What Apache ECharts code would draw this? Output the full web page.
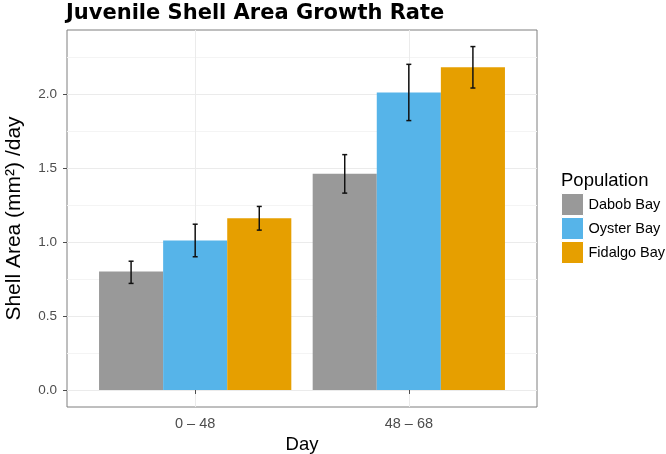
<!DOCTYPE html>
<html>
<head>
<meta charset="utf-8">
<script src="https://cdn.jsdelivr.net/npm/echarts@6/dist/echarts.min.js"></script>
<style>html,body{margin:0;padding:0;background:#fff}#c{width:666px;height:454px}</style>
</head>
<body>
<div id="c"></div>
<script>
// ---- data ----
const categories = ['0 – 48', '48 – 68'];
const populations = ['Dabob Bay', 'Oyster Bay', 'Fidalgo Bay'];
const dabobMean = [0.80, 1.46];
const oysterMean = [1.01, 2.01];
const fidalgoMean = [1.16, 2.18];
const dabobErr = [[0.72, 0.87], [1.33, 1.59]];
const oysterErr = [[0.90, 1.12], [1.82, 2.20]];
const fidalgoErr = [[1.08, 1.24], [2.04, 2.32]];
const yTicks = [0, 0.5, 1.0, 1.5, 2.0];
const yMinorTicks = [0.25, 0.75, 1.25, 1.75, 2.25];
const colors = ['#999999', '#56B4E9', '#E69F00'];

const means = [dabobMean, oysterMean, fidalgoMean];
const errs = [dabobErr, oysterErr, fidalgoErr];
const catPos = categories.map((c, i) => i + 1);
const FONT = '"Liberation Sans", Arial, Helvetica, sans-serif';
const DODGE = 0.3;

const chart = echarts.init(document.getElementById('c'), null, {renderer: 'canvas'});

const series = [];
populations.forEach((p, k) => {
  series.push({
    name: p, type: 'bar', xAxisIndex: 0, yAxisIndex: 1,
    data: means[k].map((v, i) => [catPos[i], v]),
    barWidth: '30%', barGap: '0%',
    itemStyle: {color: colors[k]},
    emphasis: {disabled: true}, animation: false
  });
});
populations.forEach((p, k) => {
  series.push({
    type: 'custom', xAxisIndex: 0, yAxisIndex: 1, z: 5,
    data: errs[k].map((e, i) => [catPos[i], e[0], e[1]]),
    renderItem: function (params, api) {
      const x = api.value(0) + (k - 1) * DODGE;
      const lo = api.coord([x, api.value(1)]);
      const hi = api.coord([x, api.value(2)]);
      const cap = 2.5;
      const st = {stroke: '#111', lineWidth: 1.5};
      return {type: 'group', children: [
        {type: 'line', shape: {x1: lo[0], y1: lo[1], x2: hi[0], y2: hi[1]}, style: st},
        {type: 'line', shape: {x1: lo[0] - cap, y1: lo[1], x2: lo[0] + cap, y2: lo[1]}, style: st},
        {type: 'line', shape: {x1: hi[0] - cap, y1: hi[1], x2: hi[0] + cap, y2: hi[1]}, style: st}
      ]};
    },
    animation: false, silent: true
  });
});

chart.setOption({
  animation: false,
  backgroundColor: '#ffffff',
  title: [
    {text: 'Juvenile Shell Area Growth Rate', left: 66, top: 3, padding: 0,
     textStyle: {fontFamily: '"DejaVu Sans", sans-serif', fontWeight: 'bold', fontSize: 21, color: '#000'}},
    {text: 'Population', left: 561, top: 171, padding: 0,
     textStyle: {fontFamily: FONT, fontWeight: 'normal', fontSize: 18.5, color: '#000'}}
  ],
  legend: {
    data: populations, orient: 'vertical', left: 561, top: 193, padding: 0,
    itemWidth: 22, itemHeight: 22, itemGap: 1, icon: 'rect',
    itemStyle: {borderColor: '#fff', borderWidth: 1},
    textStyle: {fontFamily: FONT, fontSize: 14.5, color: '#000'},
    selectedMode: false
  },
  grid: {left: 67, right: 129, top: 30, bottom: 47, show: true, outerBoundsMode: 'none',
         borderColor: '#7f7f7f', borderWidth: 1, backgroundColor: 'transparent'},
  xAxis: {
    type: 'value', min: 0.4, max: 2.6,
    name: 'Day', nameLocation: 'middle', nameGap: 26,
    nameTextStyle: {fontFamily: FONT, fontSize: 18.5, color: '#000'},
    axisLine: {show: false},
    axisTick: {show: true, length: 4, customValues: catPos, lineStyle: {color: '#4d4d4d'}},
    axisLabel: {customValues: catPos, margin: 9, fontFamily: FONT, fontSize: 14.5, color: '#4d4d4d',
                formatter: v => categories[Math.round(v) - 1] || ''},
    splitLine: {show: true, lineStyle: {color: '#ebebeb', width: 1}}
  },
  yAxis: [
    {type: 'value', min: -0.115, max: 2.432, position: 'left',
     axisLine: {show: false}, axisTick: {show: false, customValues: yMinorTicks},
     axisLabel: {show: false, customValues: yMinorTicks},
     splitLine: {show: true, lineStyle: {color: '#f4f4f4', width: 1}}},
    {type: 'value', min: -0.115, max: 2.432, position: 'left',
     name: 'Shell Area (mm²) /day', nameLocation: 'middle', nameGap: 42,
     nameTextStyle: {fontFamily: FONT, fontSize: 21, color: '#000'},
     axisLine: {show: false},
     axisTick: {show: true, length: 4, customValues: yTicks, lineStyle: {color: '#4d4d4d'}},
     axisLabel: {customValues: yTicks, margin: 10, fontFamily: FONT, fontSize: 13.5, color: '#4d4d4d',
                 formatter: v => v.toFixed(1)},
     splitLine: {show: true, lineStyle: {color: '#ebebeb', width: 1}}}
  ],
  series: series
});
</script>
</body>
</html>
